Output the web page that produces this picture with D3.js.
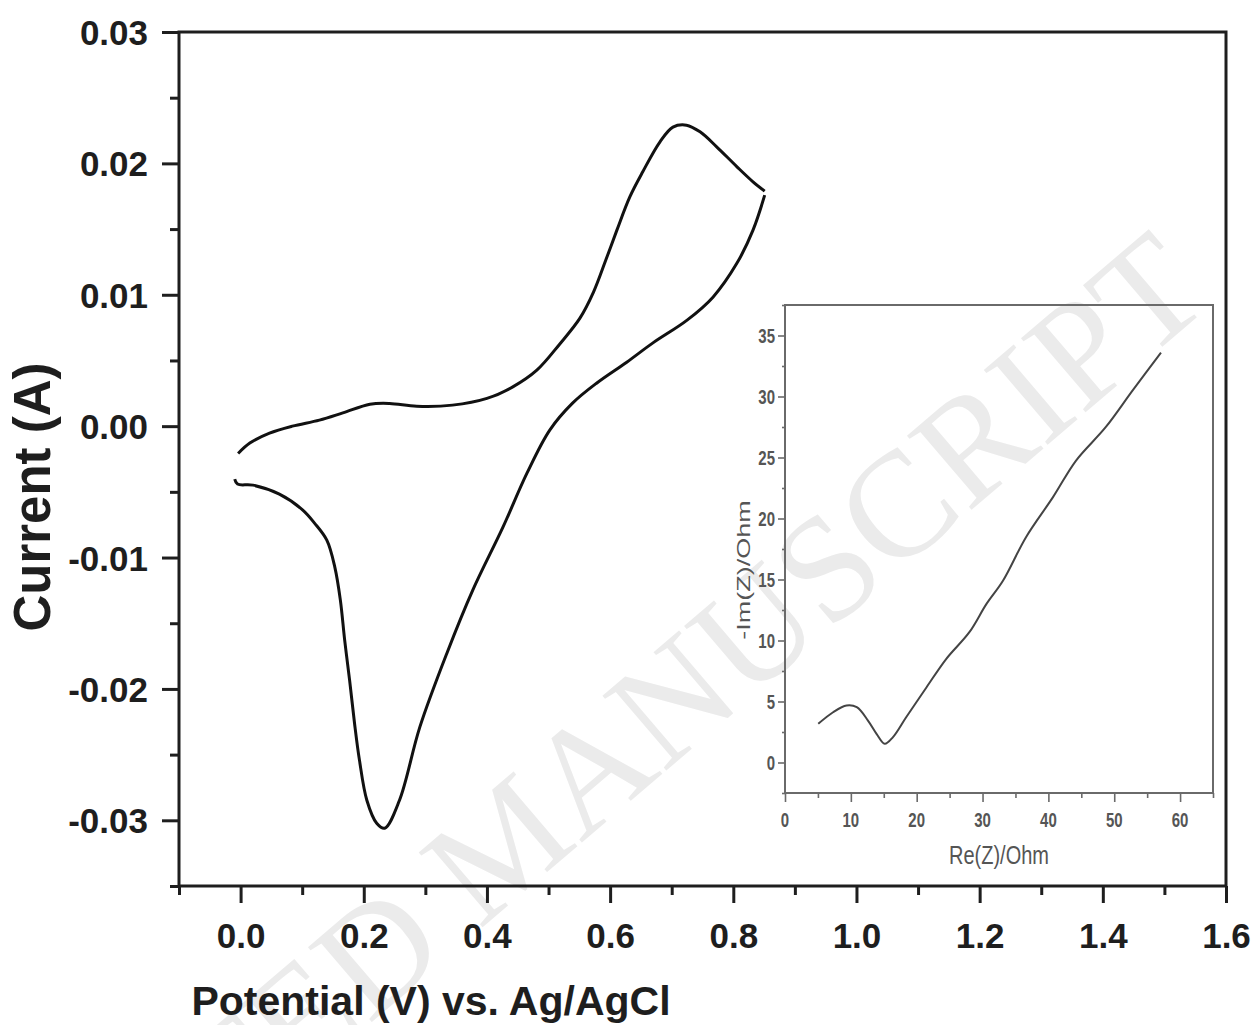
<!DOCTYPE html>
<html>
<head>
<meta charset="utf-8">
<script src="https://cdn.jsdelivr.net/npm/d3@7"></script>
<style>
	html, body { margin: 0; padding: 0; background: #fff; }
	svg { display: block; }
</style>
</head>
<body>
<div id="chart"></div>
<script>
// cyclic voltammogram, forward scan (V, A)
const cvForwardV = [-0.004, 0.015, 0.047, 0.084, 0.128, 0.166, 0.210, 0.242, 0.286, 0.344, 0.400, 0.442, 0.481, 0.518, 0.551, 0.573, 0.593, 0.611, 0.632, 0.653, 0.681, 0.702, 0.724, 0.746, 0.773, 0.806, 0.832, 0.851]
const cvForwardI = [-0.00208, -0.00129, -0.00053, 0.0, 0.00046, 0.00101, 0.00167, 0.00173, 0.00152, 0.0016, 0.00211, 0.00299, 0.00426, 0.00624, 0.00822, 0.0102, 0.01264, 0.01492, 0.01745, 0.01936, 0.02164, 0.02276, 0.02291, 0.0224, 0.02126, 0.01974, 0.0186, 0.01789]
// reverse scan
const cvReverseV = [0.851, 0.832, 0.806, 0.767, 0.725, 0.669, 0.627, 0.578, 0.539, 0.502, 0.465, 0.426, 0.377, 0.335, 0.291, 0.258, 0.234, 0.221, 0.205, 0.193, 0.185, 0.177, 0.169, 0.162, 0.153, 0.140, 0.120, 0.101, 0.063, 0.020, -0.005, -0.0095]
const cvReverseI = [0.01758, 0.01492, 0.01241, 0.00982, 0.00807, 0.00632, 0.00487, 0.00327, 0.00175, -0.0003, -0.00358, -0.00769, -0.01248, -0.01728, -0.02291, -0.02847, -0.0306, -0.03022, -0.02847, -0.02542, -0.02261, -0.01933, -0.01629, -0.01324, -0.01073, -0.00868, -0.00738, -0.00639, -0.00518, -0.00449, -0.00441, -0.00403]

// Nyquist plot for the inset
const nyqRe = [5.05, 7.3, 9.35, 10.9, 12.6, 13.9, 15.15, 16.4, 18.4, 21.5, 24.5, 28.0, 30.6, 33.1, 36.6, 40.7, 44.2, 48.7, 52.8, 57.1]
const nyqIm = [3.17, 4.12, 4.67, 4.53, 3.44, 2.35, 1.53, 2.08, 3.71, 6.17, 8.5, 10.68, 13.0, 14.9, 18.47, 21.75, 24.75, 27.48, 30.5, 33.6]

const xTicks = [0.0, 0.2, 0.4, 0.6, 0.8, 1.0, 1.2, 1.4, 1.6]
const xTickLabels = ['0.0', '0.2', '0.4', '0.6', '0.8', '1.0', '1.2', '1.4', '1.6']
const xMinorTicks = [-0.1, 0.1, 0.3, 0.5, 0.7, 0.9, 1.1, 1.3, 1.5]
const yTicks = [0.03, 0.02, 0.01, 0.0, -0.01, -0.02, -0.03]
const yTickLabels = ['0.03', '0.02', '0.01', '0.00', '-0.01', '-0.02', '-0.03']
const yMinorTicks = [0.025, 0.015, 0.005, -0.005, -0.015, -0.025, -0.035]

const insetXTicks = [0, 10, 20, 30, 40, 50, 60]
const insetXMinor = [5, 15, 25, 35, 45, 55, 65]
const insetYTicks = [0, 5, 10, 15, 20, 25, 30, 35]
const insetYMinor = [-2.5, 2.5, 7.5, 12.5, 17.5, 22.5, 27.5, 32.5, 37.5]

const width = 1259
const height = 1025
const font = '"Liberation Sans", Arial, Helvetica, sans-serif'
const ink = '#1e1e1e'

const svg = d3.select('#chart').append('svg').attr('width', width).attr('height', height)

// watermark
svg.append('text')
	.attr('transform', 'translate(538,880) rotate(-40.5)')
	.attr('text-anchor', 'middle')
	.attr('font-family', '"Liberation Serif", "DejaVu Serif", serif')
	.attr('font-size', 150)
	.attr('fill', '#ebebeb')
	.text('ACCEPTED MANUSCRIPT')

// main scales
const x = d3.scaleLinear().domain([-0.1, 1.6]).range([179, 1226])
const y = d3.scaleLinear().domain([-0.035, 0.03]).range([886, 32])

function styleAxis(g) {
	g.select('.domain').remove()
	g.selectAll('.tick line').attr('stroke', ink).attr('stroke-width', 3)
	g.selectAll('.tick text').attr('fill', ink).attr('font-family', font).attr('font-weight', 'bold').attr('font-size', 35)
}

// bottom axis
svg.append('g')
	.attr('transform', 'translate(0,886)')
	.call(d3.axisBottom(x).tickValues(xTicks).tickSize(17).tickFormat((d, i) => xTickLabels[i]))
	.call(styleAxis)
	.call((g) => g.selectAll('.tick text').attr('y', 62).attr('dy', 0))
svg.append('g')
	.attr('transform', 'translate(0,886)')
	.call(d3.axisBottom(x).tickValues(xMinorTicks).tickSize(9).tickFormat(''))
	.call(styleAxis)

// left axis
svg.append('g')
	.attr('transform', 'translate(179,0)')
	.call(d3.axisLeft(y).tickValues(yTicks).tickSize(17).tickFormat((d, i) => yTickLabels[i]))
	.call(styleAxis)
	.call((g) => g.selectAll('.tick text').attr('x', -31).attr('dy', '0.36em'))
svg.append('g')
	.attr('transform', 'translate(179,0)')
	.call(d3.axisLeft(y).tickValues(yMinorTicks).tickSize(9).tickFormat(''))
	.call(styleAxis)

// frame
svg.append('rect')
	.attr('x', x(-0.1))
	.attr('y', y(0.03))
	.attr('width', x(1.6) - x(-0.1))
	.attr('height', y(-0.035) - y(0.03))
	.attr('fill', 'none')
	.attr('stroke', ink)
	.attr('stroke-width', 3)

// axis titles
svg.append('text')
	.attr('x', 431)
	.attr('y', 1015)
	.attr('text-anchor', 'middle')
	.attr('font-family', font)
	.attr('font-weight', 'bold')
	.attr('font-size', 41)
	.attr('fill', ink)
	.text('Potential (V) vs. Ag/AgCl')

svg.append('text')
	.attr('transform', 'translate(50,497) rotate(-90)')
	.attr('text-anchor', 'middle')
	.attr('font-family', font)
	.attr('font-weight', 'bold')
	.attr('font-size', 51)
	.attr('fill', ink)
	.text('Current (A)')

// CV curve
const cvLine = d3.line().x((d) => x(d[0])).y((d) => y(d[1])).curve(d3.curveCatmullRom.alpha(0.5))
const forward = cvForwardV.map((v, i) => [v, cvForwardI[i]])
const reverse = cvReverseV.map((v, i) => [v, cvReverseI[i]])
;[forward, reverse].forEach((pts) => {
	svg.append('path')
		.attr('d', cvLine(pts))
		.attr('fill', 'none')
		.attr('stroke', '#111')
		.attr('stroke-width', 3)
		.attr('stroke-linejoin', 'round')
})

// ---- inset: Nyquist plot ----
const ix = d3.scaleLinear().domain([0, 65]).range([785, 1213])
const iy = d3.scaleLinear().domain([-2.5, 37.5]).range([793, 305])
const insetInk = '#555'

svg.append('rect')
	.attr('x', ix(0))
	.attr('y', iy(37.5))
	.attr('width', ix(65) - ix(0))
	.attr('height', iy(-2.5) - iy(37.5))
	.attr('fill', 'none')
	.attr('stroke', '#6a6a6a')
	.attr('stroke-width', 2)

function styleInset(g) {
	g.select('.domain').remove()
	g.selectAll('.tick line').attr('stroke', '#6a6a6a').attr('stroke-width', 1.6)
	g.selectAll('.tick text').remove()
}

svg.append('g').attr('transform', `translate(0,${iy(-2.5)})`)
	.call(d3.axisBottom(ix).tickValues(insetXTicks).tickSize(9)).call(styleInset)
svg.append('g').attr('transform', `translate(0,${iy(-2.5)})`)
	.call(d3.axisBottom(ix).tickValues(insetXMinor).tickSize(5)).call(styleInset)
svg.append('g').attr('transform', `translate(${ix(0)},0)`)
	.call(d3.axisLeft(iy).tickValues(insetYTicks).tickSize(7)).call(styleInset)
svg.append('g').attr('transform', `translate(${ix(0)},0)`)
	.call(d3.axisLeft(iy).tickValues(insetYMinor).tickSize(3)).call(styleInset)

// inset tick labels (the inset image is stretched vertically)
svg.append('g').selectAll('g')
	.data(insetXTicks)
	.join('g')
	.attr('transform', (d) => `translate(${ix(d)},827) scale(1,1.3)`)
	.append('text')
	.attr('text-anchor', 'middle')
	.attr('font-family', font)
	.attr('font-weight', 'bold')
	.attr('font-size', 15)
	.attr('fill', insetInk)
	.text((d) => d)

svg.append('g').selectAll('g')
	.data(insetYTicks)
	.join('g')
	.attr('transform', (d) => `translate(775,${iy(d) + 7}) scale(1,1.3)`)
	.append('text')
	.attr('text-anchor', 'end')
	.attr('font-family', font)
	.attr('font-weight', 'bold')
	.attr('font-size', 15)
	.attr('fill', insetInk)
	.text((d) => d)

svg.append('text')
	.attr('transform', `translate(${(ix(0) + ix(65)) / 2},864) scale(1,1.25)`)
	.attr('text-anchor', 'middle')
	.attr('font-family', font)
	.attr('font-size', 20)
	.attr('fill', insetInk)
	.text('Re(Z)/Ohm')

svg.append('text')
	.attr('transform', 'translate(750,570) scale(1,1.5) rotate(-90)')
	.attr('text-anchor', 'middle')
	.attr('font-family', font)
	.attr('font-size', 18)
	.attr('fill', insetInk)
	.text('-Im(Z)/Ohm')

const nyqLine = d3.line().x((d) => ix(d[0])).y((d) => iy(d[1])).curve(d3.curveCatmullRom.alpha(0.5))
svg.append('path')
	.attr('d', nyqLine(nyqRe.map((r, i) => [r, nyqIm[i]])))
	.attr('fill', 'none')
	.attr('stroke', '#444')
	.attr('stroke-width', 2)
</script>
</body>
</html>
